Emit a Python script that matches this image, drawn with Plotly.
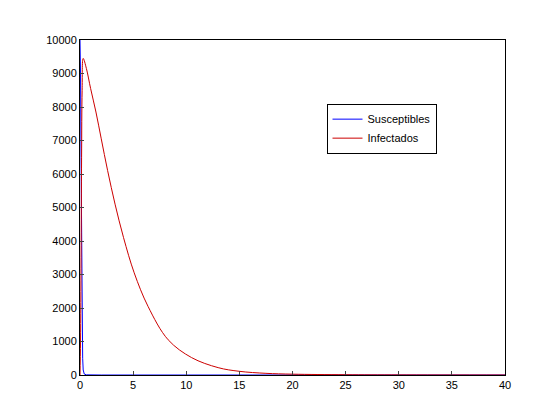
import plotly.graph_objects as go

# values
t_sus = [0, 0.05, 0.1, 0.15, 0.2, 0.25, 0.3, 0.4, 0.6, 1, 2, 5, 10, 20, 40]
sus = [10000, 9000, 6500, 3500, 1500, 500, 150, 30, 5, 1, 0, 0, 0, 0, 0]

t_inf = [0, 0.05, 0.1, 0.15, 0.2, 0.3, 0.6, 1.0, 1.5, 2.0, 2.6, 3.3, 4.1, 5.1, 6.4,
         8.3, 10.5, 13, 15, 17.5, 20, 25, 30, 40]
inf = [0, 1000, 3500, 6500, 8500, 9450, 9150, 8550, 7850, 7050, 6100, 5100, 4100,
       3050, 2050, 1050, 520, 220, 110, 50, 25, 8, 3, 0]

fig = go.Figure()
fig.add_trace(go.Scatter(x=t_sus, y=sus, mode="lines", name="Susceptibles",
                         line=dict(color="#0000ff", width=1)))
fig.add_trace(go.Scatter(x=t_inf, y=inf, mode="lines", name="Infectados",
                         line=dict(color="#cc0000", width=1, shape="spline")))

axis = dict(showgrid=False, zeroline=False, showline=True, linecolor="black",
            linewidth=1, mirror=True, ticks="inside", ticklen=4, automargin=False,
            tickfont=dict(family="Liberation Sans", size=11, color="black"))
fig.update_xaxes(range=[0, 40], dtick=5, **axis)
fig.update_yaxes(range=[0, 10000], dtick=1000, tickformat="d", **axis)
fig.update_layout(
    width=550, height=412,
    margin=dict(l=72, r=53, t=32, b=45, pad=0),
    plot_bgcolor="white", paper_bgcolor="white",
    legend=dict(x=0.58, y=0.81, xanchor="left", yanchor="top",
                bordercolor="black", borderwidth=1, bgcolor="white",
                font=dict(family="Liberation Sans", size=11, color="black"),
                tracegroupgap=0),
)
fig.write_html("out.html")
